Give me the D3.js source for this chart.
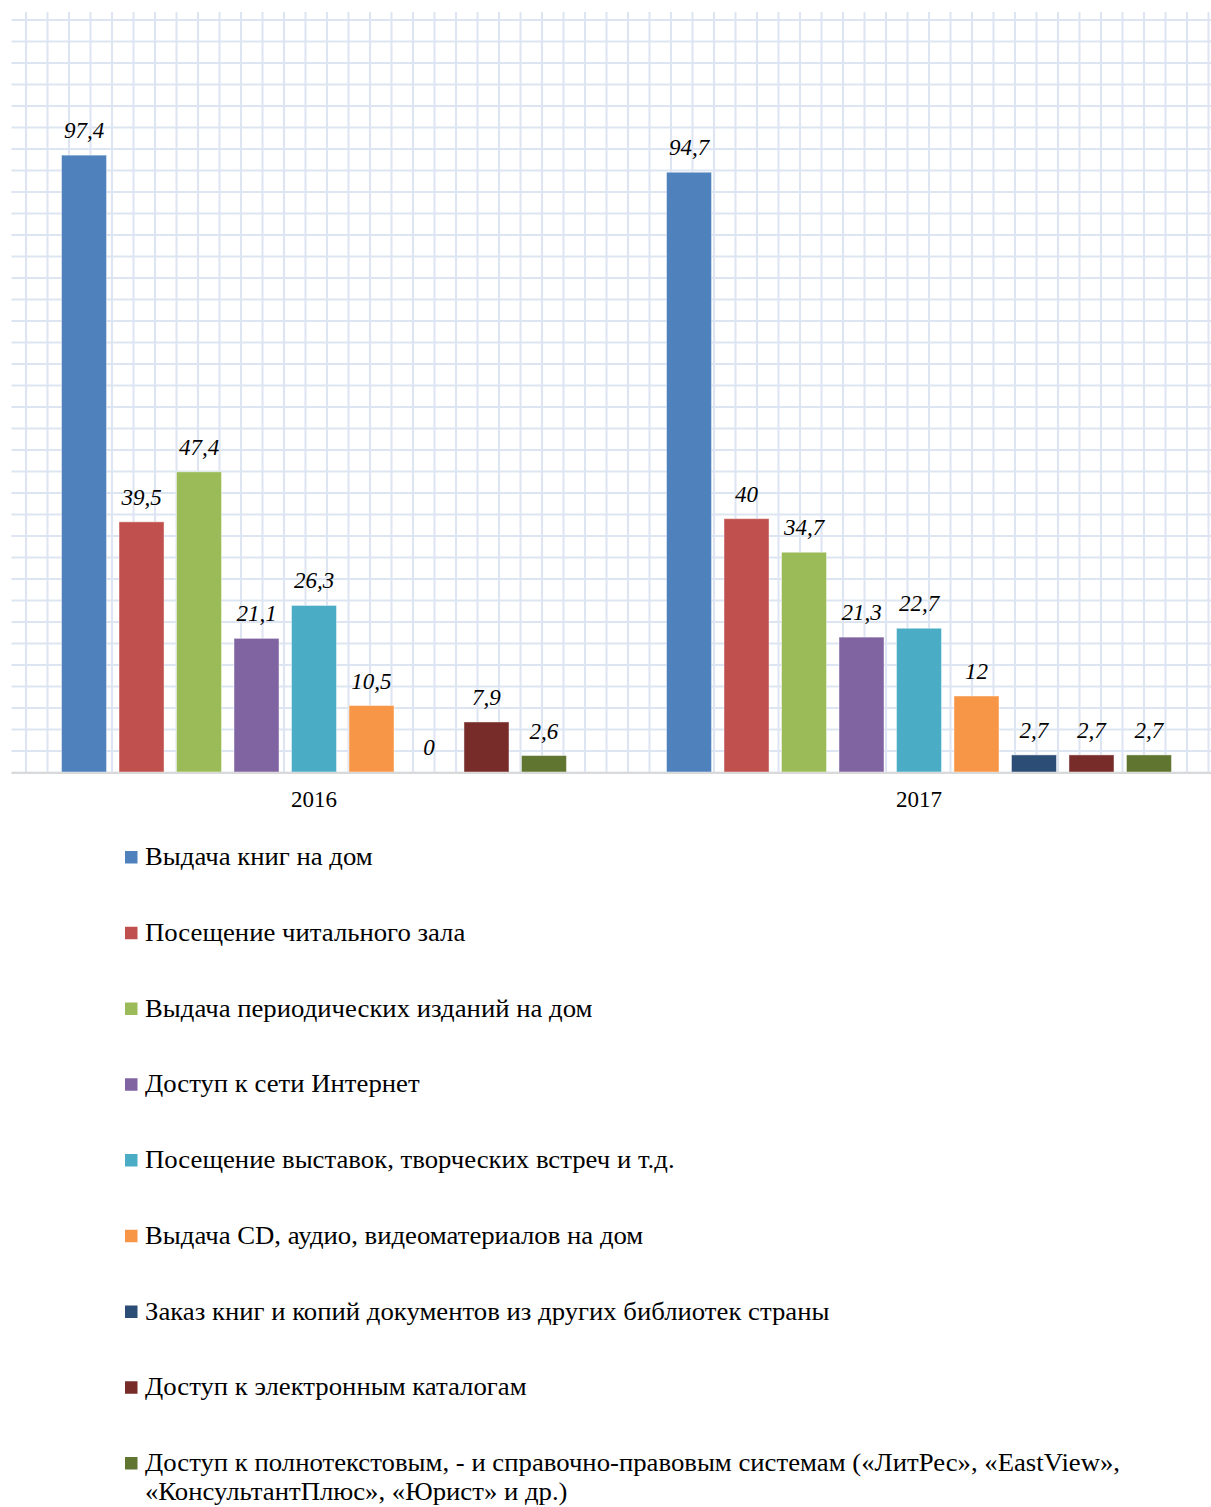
<!DOCTYPE html>
<html>
<head>
<meta charset="utf-8">
<script src="https://cdn.jsdelivr.net/npm/d3@7"></script>
<style>
  body { margin: 0; background: #fff; }
  svg { display: block; }
</style>
</head>
<body>
<script>
const WIDTH = 1211;
const HEIGHT = 1507;

// data
const years = ["2016", "2017"];
const services = [
    "Выдача книг на дом",
    "Посещение читального зала",
    "Выдача периодических изданий на дом",
    "Доступ к сети Интернет",
    "Посещение выставок, творческих встреч и т.д.",
    "Выдача CD, аудио, видеоматериалов на дом",
    "Заказ книг и копий документов из других библиотек страны",
    "Доступ к электронным каталогам",
    "Доступ к полнотекстовым, - и справочно-правовым системам («ЛитРес», «EastView», «КонсультантПлюс», «Юрист» и др.)"
];
const values2016 = [97.4, 39.5, 47.4, 21.1, 26.3, 10.5, 0, 7.9, 2.6];
const values2017 = [94.7, 40, 34.7, 21.3, 22.7, 12, 2.7, 2.7, 2.7];
const colors = ["#4F81BD", "#C0504D", "#9BBB59", "#8064A2", "#4BACC6",
                "#F79646", "#2C4D75", "#772C2A", "#5F7530"];

const valuesByYear = [values2016, values2017];

const PLOT = { left: 11.5, right: 1221.5, top: 12, bottom: 772 };
const FONT = "'Liberation Serif', 'Times New Roman', serif";
const CELL = 21.5;

const svg = d3.select("body")
    .append("svg")
    .attr("width", WIDTH)
    .attr("height", HEIGHT);

// squared-paper fill of the plot area (lines drawn mid-tile so they are not clipped)
const pattern = svg.append("defs")
    .append("pattern")
    .attr("id", "grid")
    .attr("patternUnits", "userSpaceOnUse")
    .attr("x", 26 - CELL / 2)
    .attr("y", 20 - CELL / 2)
    .attr("width", CELL)
    .attr("height", CELL);
pattern.append("rect")
    .attr("width", CELL).attr("height", CELL).attr("fill", "#fff");
pattern.append("path")
    .attr("d", `M${CELL / 2},0V${CELL}M0,${CELL / 2}H${CELL}`)
    .attr("stroke", "#dce5f1")
    .attr("stroke-width", 2)
    .attr("fill", "none");

svg.append("rect")
    .attr("x", PLOT.left)
    .attr("y", PLOT.top)
    .attr("width", WIDTH - PLOT.left)
    .attr("height", PLOT.bottom - PLOT.top)
    .attr("fill", "url(#grid)");

const x0 = d3.scaleBand()
    .domain(years)
    .range([PLOT.left, PLOT.right]);

const x1 = d3.scaleBand()
    .domain(d3.range(services.length))
    .range([0, x0.bandwidth()])
    .paddingInner(0.217)
    .paddingOuter(0.87);

const y = d3.scaleLinear()
    .domain([0, 120])
    .range([PLOT.bottom, PLOT.top]);

const groups = svg.selectAll("g.year")
    .data(years)
    .join("g")
    .attr("class", "year")
    .attr("transform", d => `translate(${x0(d)},0)`);

const cells = groups.selectAll("g.cell")
    .data((d, i) => valuesByYear[i].map((v, j) => ({ v, j })))
    .join("g")
    .attr("class", "cell");

cells.append("rect")
    .attr("x", d => x1(d.j))
    .attr("y", d => y(d.v))
    .attr("width", x1.bandwidth())
    .attr("height", d => y(0) - y(d.v))
    .attr("fill", d => colors[d.j])
    .attr("stroke", "rgba(255,255,255,0.45)")
    .attr("stroke-width", 1);

cells.append("text")
    .attr("x", d => x1(d.j) + x1.bandwidth() / 2)
    .attr("y", d => y(d.v) - 17)
    .attr("text-anchor", "middle")
    .attr("font-family", FONT)
    .attr("font-style", "italic")
    .attr("font-size", 23)
    .attr("fill", "#000")
    .text(d => String(d.v).replace(".", ","));

// baseline
svg.append("line")
    .attr("x1", PLOT.left)
    .attr("x2", WIDTH)
    .attr("y1", y(0) + 1)
    .attr("y2", y(0) + 1)
    .attr("stroke", "#d9d9d9")
    .attr("stroke-width", 2);

const xAxis = svg.append("g")
    .attr("transform", `translate(0,${PLOT.bottom})`)
    .call(d3.axisBottom(x0).tickSize(0).tickPadding(19));
xAxis.select(".domain").remove();
xAxis.selectAll("text")
    .attr("font-family", FONT)
    .attr("font-size", 23)
    .attr("fill", "#000")
    .attr("dy", "0.71em");

// legend
const legend = svg.append("g")
    .attr("transform", "translate(125,865)");

const items = legend.selectAll("g")
    .data(services)
    .join("g")
    .attr("transform", (d, i) => `translate(0,${i * 75.75})`);

items.append("rect")
    .attr("x", 0)
    .attr("y", -14)
    .attr("width", 12.5)
    .attr("height", 12.5)
    .attr("fill", (d, i) => colors[i]);

// the reference text is a little wider than Liberation Serif at the same height
const STRETCH = 1.07;
const wrapAt = "«КонсультантПлюс»";
items.append("text")
    .attr("transform", `translate(20,0) scale(${STRETCH},1)`)
    .attr("font-family", FONT)
    .attr("font-size", 25)
    .attr("fill", "#000")
    .each(function (d) {
        const t = d3.select(this);
        const k = d.indexOf(wrapAt);
        if (k < 0) {
            t.text(d);
        } else {
            t.append("tspan").attr("x", 0).text(d.slice(0, k).trim());
            t.append("tspan").attr("x", 0).attr("dy", 29).text(d.slice(k));
        }
    });
</script>
</body>
</html>
